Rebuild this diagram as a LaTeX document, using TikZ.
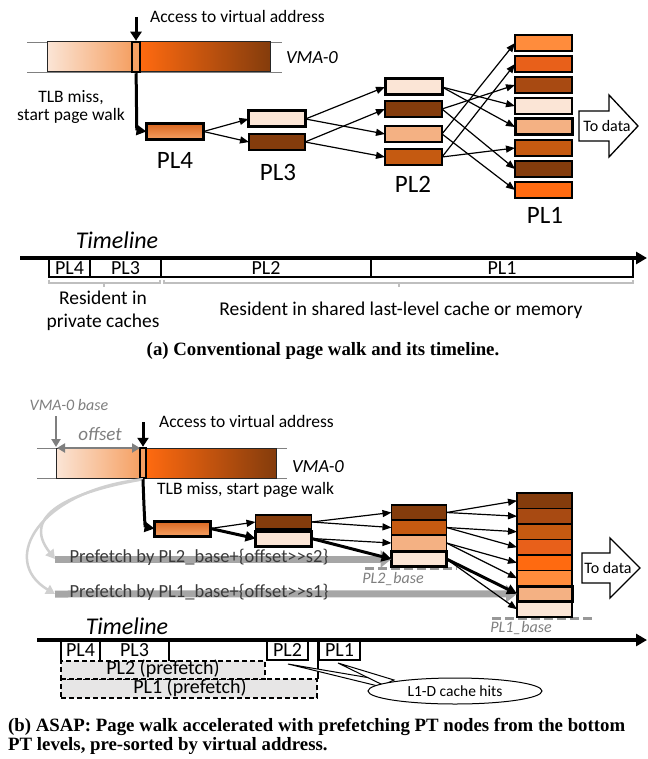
\documentclass[tikz,border=0pt]{standalone}
\usepackage{fontspec}
\setmainfont{Carlito}
\newfontfamily\capfont{Liberation Serif}
\usetikzlibrary{arrows.meta,shapes.geometric}
\definecolor{oA}{HTML}{FBE5D6}
\definecolor{oB}{HTML}{F4B183}
\definecolor{oC}{HTML}{FF8C3C}
\definecolor{oD}{HTML}{FF6A10}
\definecolor{oE}{HTML}{E8601A}
\definecolor{oF}{HTML}{C55A11}
\definecolor{oG}{HTML}{A84A12}
\definecolor{oH}{HTML}{843C0C}
\definecolor{pgA}{HTML}{D9661F}
\definecolor{pgB}{HTML}{F5A063}
\definecolor{gtxt}{HTML}{7F7F7F}
\definecolor{gbar}{HTML}{A6A6A6}
\definecolor{gcurve}{HTML}{D0D0D0}
\definecolor{gbrk}{HTML}{BFBFBF}
\definecolor{pfill}{HTML}{E7E6E6}
\definecolor{ptxt}{HTML}{3A3A3A}
\begin{document}
\begin{tikzpicture}[x=1pt,y=-1pt,
  box/.style={draw=black,line width=1.3pt,inner sep=0pt,outer sep=0pt,minimum width=57pt,minimum height=16pt},
  bbox/.style={box,line width=3pt},
  conn/.style={line width=1.2pt,-{Triangle[length=9pt,width=7pt]}},
  bconn/.style={line width=3pt,-{Triangle[length=10pt,width=10pt]}},
  txt/.style={inner sep=0pt,font=\fontsize{17.5}{20}\selectfont},
  lbl/.style={inner sep=0pt,font=\fontsize{25}{30}\selectfont},
  tlb/.style={draw=black,line width=1.2pt,inner sep=0pt,outer sep=0pt,minimum height=18pt,font=\fontsize{20}{20}\selectfont},
  glbl/.style={inner sep=0pt,text=gtxt,font=\fontsize{16}{19}\selectfont\itshape},
  pfbox/.style={draw=black,dash pattern=on 5pt off 3pt,line width=1.2pt,fill=pfill,inner sep=0pt,outer sep=0pt,font=\fontsize{20}{20}\selectfont},
  tline/.style={line width=4pt,-{Triangle[length=11pt,width=12pt]}},
  tltxt/.style={inner sep=0pt,font=\fontsize{24}{28}\selectfont\itshape},
  captxt/.style={inner sep=0pt,font=\capfont\bfseries\fontsize{18.8}{21}\selectfont}
]
\useasboundingbox[fill=white] (0,0) rectangle (647,759);

%% ================= (a) =================
\draw[gray,line width=0.8pt] (27,42) -- (282,42) (27,72) -- (282,72);
\fill[left color=oA,right color=pgB] (47,42) rectangle (132,72);
\fill[left color=oD,middle color=oF!70!oD,right color=oH] (140,42) rectangle (270,72);
\draw[line width=1pt,black!85] (47,42) rectangle (270,72);
\node[draw=black,line width=2.5pt,fill=pgB,minimum width=8pt,minimum height=30pt,inner sep=0pt] (sA) at (136,57) {};
\coordinate (acA) at (136,17);
\draw[line width=3pt,-{Triangle[length=9pt,width=11pt]}] (acA) -- (sA.north);
\node[txt,anchor=west] (accA) at (150,16) {Access to virtual address};
\node[txt,font=\fontsize{18.5}{20}\selectfont\itshape] (vmaA) at (312,58) {VMA-0};
\node[txt,align=center,font=\fontsize{17.5}{18}\selectfont] (tlbA) at (71,107) {TLB miss,\\start page walk};

% PL4
\node[bbox,top color=pgA,bottom color=pgB,minimum width=57pt] (a4) at (175,131.5) {};
\node[lbl] (l4) at (175,160) {PL4};
% PL3
\node[bbox,fill=oA] (a3t) at (277,119) {};
\node[box,fill=oH,minimum width=56pt] (a3b) at (277,142) {};
\node[lbl] (l3) at (278,172) {PL3};
% PL2
\node[bbox,fill=oA] (a2a) at (413.5,87) {};
\node[box,fill=oH] (a2b) at (413.5,109) {};
\node[box,fill=oB] (a2c) at (413.5,134) {};
\node[box,fill=oF] (a2d) at (413.5,157) {};
\node[lbl] (l2) at (413,184) {PL2};
% PL1
\foreach \i/\c/\st in {1/oC/box,2/oE/box,3/oG/box,4/oA/box,5/oB/bbox,6/oF/box,7/oH/box,8/oD/box}
  \node[\st,fill=\c] (pa\i) at (543.5,{43+21*(\i-1)}) {};
\node[lbl] (l1) at (545,215) {PL1};

\draw[bconn] (sA.south) .. controls (137,112) and (136,130) .. (a4.west);
\draw[conn] (a4.east) -- (a3t.west);
\draw[conn] (a4.east) -- (a3b.west);
\draw[conn] (a3t.east) -- (a2a.west);
\draw[conn] (a3t.east) -- (a2c.west);
\draw[conn] (a3b.east) -- (a2b.west);
\draw[conn] (a3b.east) -- (a2d.west);
\foreach \s/\t in {a2a/pa4,a2a/pa5,a2b/pa3,a2b/pa7,a2c/pa1,a2c/pa8,a2d/pa2,a2d/pa6}
  \draw[conn] (\s.east) -- (\t.west);

% To data (a)
\draw[line width=1.3pt,fill=white] (579,111) -- (609,111) -- (609,95) -- (638,126) -- (609,157) -- (609,141) -- (579,141) -- cycle;
\node[inner sep=0pt,font=\fontsize{16}{18}\selectfont] (tdA) at (607,126) {To data};

% timeline (a)
\node[tltxt] (tlA) at (117,240) {Timeline};
\coordinate (tAs) at (20,258);
\coordinate (tAe) at (647,258);
\node[tlb,minimum width=41pt] (tA4) at (69.5,268) {PL4};
\node[tlb,minimum width=71pt] (tA3) at (125.5,268) {PL3};
\node[tlb,minimum width=210pt] (tA2) at (266,268) {PL2};
\node[tlb,minimum width=262pt] (tA1) at (502,268) {PL1};
\draw[tline] (tAs) -- (tAe);
\draw[gbrk,line width=1.2pt] (49,279.5) -- (49,283) -- (160,283) -- (160,279.5) (104,283) -- (104,287);
\draw[gbrk,line width=1.2pt] (164,279.5) -- (164,283) -- (633,283) -- (633,279.5) (399,283) -- (399,287);
\node[inner sep=0pt,align=center,font=\fontsize{19.5}{23.5}\selectfont] (resA) at (103,311) {Resident in\\private caches};
\node[inner sep=0pt,font=\fontsize{19.5}{23}\selectfont] (resB) at (401,310) {Resident in shared last-level cache or memory};
\node[captxt] (capA) at (323,351) {(a) Conventional page walk and its timeline.};

%% ================= (b) =================
\draw[gray,line width=0.8pt] (37,448) -- (287,448) (37,478) -- (287,478);
\fill[left color=oA,right color=pgB] (56,448) rectangle (140,478);
\fill[left color=oD,middle color=oF!70!oD,right color=oH] (146,448) rectangle (276,478);
\draw[line width=1pt,black!85] (56,448) rectangle (276,478);
\node[draw=black,line width=2.5pt,fill=pgB,minimum width=6pt,minimum height=30pt,inner sep=0pt] (sB) at (143,463) {};
\node[glbl] (vbase) at (69,405) {VMA-0 base};
\coordinate (vbs) at (56,416);
\coordinate (vbe) at (56,447);
\draw[line width=2.5pt,gtxt,-{Triangle[length=8pt,width=9pt]}] (vbs) -- (vbe);
\node[glbl,font=\fontsize{19}{21}\selectfont\itshape] (offs) at (100,434) {offset};
\coordinate (ofs) at (57,448);
\coordinate (ofe) at (140,448);
\draw[line width=2.5pt,gtxt,{Triangle[length=8pt,width=9pt]}-{Triangle[length=8pt,width=9pt]}] (ofs) -- (ofe);
\coordinate (acB) at (143,422);
\draw[line width=3pt,-{Triangle[length=9pt,width=11pt]}] (acB) -- (sB.north);
\node[txt,anchor=west] (accB) at (159,421) {Access to virtual address};
\node[txt,font=\fontsize{18.5}{20}\selectfont\itshape] (vmaB) at (318,467) {VMA-0};
\node[txt,anchor=west] (tlbB) at (157,490) {TLB miss, start page walk};

% light gray curves
\coordinate (pf2s) at (55,559);
\coordinate (pf1s) at (55,594);
\draw[gcurve,line width=2.5pt,-{Triangle[length=9pt,width=10pt]}] (sB.south) .. controls (70,492) and (20,515) .. (pf2s);
\draw[gcurve,line width=2.5pt,-{Triangle[length=9pt,width=10pt]}] (sB.south) .. controls (40,490) and (-2,560) .. (pf1s);

% base lines
\coordinate (b2bs) at (365,568.5);
\coordinate (b2be) at (457,568.5);
\draw[gtxt!80,line width=3pt,dash pattern=on 9pt off 4pt] (b2bs) -- (b2be);
\coordinate (b1bs) at (492,618);
\coordinate (b1be) at (592,618);
\draw[gtxt!80,line width=3pt,dash pattern=on 9pt off 4pt] (b1bs) -- (b1be);
\node[glbl] (pl2base) at (393,579) {PL2\_base};
\node[glbl] (pl1base) at (521,628) {PL1\_base};

% PL nodes (b)
\node[bbox,top color=pgA,bottom color=pgB,minimum width=56pt,minimum height=15pt] (b4n) at (182.5,528.5) {};
\node[box,fill=oH,minimum width=56pt,minimum height=14pt] (b3t) at (283.5,522) {};
\node[bbox,fill=oA,minimum width=56pt,minimum height=15pt] (b3b) at (283.5,538.5) {};
\node[box,fill=oH,minimum width=55pt,minimum height=15pt] (b2a) at (419,512.5) {};
\node[box,fill=oF,minimum width=55pt,minimum height=15pt] (b2b) at (419,527.5) {};
\node[box,fill=oB,minimum width=55pt,minimum height=15pt] (b2c) at (419,543) {};
\foreach \i/\c in {1/oH,2/oG,3/oF,4/oE,5/oD,6/oC,8/oA}
  \node[box,fill=\c,minimum width=55pt,minimum height=15.5pt] (pb\i) at (544.5,{500.75+15.5*(\i-1)}) {};
\node[bbox,fill=oB,minimum width=55pt,minimum height=15.5pt] (pb7) at (544.5,593.75) {};
\node[bbox,fill=oA,minimum width=55pt,minimum height=15pt] (b2d) at (419,559) {};

% prefetch bars
\draw[gbar,line width=7pt,-{Triangle[length=11pt,width=17pt]}] (pf2s) -- (b2d.west);
\draw[gbar,line width=7pt,-{Triangle[length=11pt,width=17pt]}] (pf1s) -- (pb7.west);
\node[inner sep=0pt,text=ptxt,font=\fontsize{18.5}{20}\selectfont] (pf2) at (199,557) {Prefetch by PL2\_base+\{offset>{}>s2\}};
\node[inner sep=0pt,text=ptxt,font=\fontsize{18.5}{20}\selectfont] (pf1) at (199,592) {Prefetch by PL1\_base+\{offset>{}>s1\}};

% arrows (b)
\draw[bconn] (sB.south) .. controls (144,510) and (145,527) .. (b4n.west);
\draw[conn] (b4n.east) -- (b3t.west);
\draw[bconn] (b4n.east) -- (b3b.west);
\draw[conn] (b3t.east) -- (b2a.west);
\draw[conn] (b3t.east) -- (b2b.west);
\draw[conn] (b3b.east) -- (b2c.west);
\draw[bconn] (b3b.east) -- (b2d.west);
\foreach \s/\t in {b2a/pb1,b2a/pb2,b2b/pb3,b2b/pb4,b2c/pb5,b2c/pb6,b2d/pb8}
  \draw[conn] (\s.east) -- (\t.west);
\draw[bconn] (b2d.east) -- (pb7.west);

% To data (b)
\draw[line width=1.3pt,fill=white] (582,553) -- (610,553) -- (610,538) -- (640,568) -- (610,598) -- (610,583) -- (582,583) -- cycle;
\node[inner sep=0pt,font=\fontsize{16}{18}\selectfont] (tdB) at (608,568) {To data};

% timeline (b)
\node[tltxt] (tlB) at (127,626) {Timeline};
\coordinate (tBs) at (37,640);
\coordinate (tBe) at (647,640);
\node[pfbox,minimum width=256pt,minimum height=19pt] (pfb1) at (189,688.5) {};
\node[pfbox,minimum width=204pt,minimum height=18pt] (pfb2) at (163,670) {};
\node[inner sep=0pt,font=\fontsize{20}{20}\selectfont] (pft2) at (163,669) {PL2 (prefetch)};
\node[inner sep=0pt,font=\fontsize{20}{20}\selectfont] (pft1) at (190,688) {PL1 (prefetch)};
\draw[line width=1.2pt] (61,640) -- (61,661) (100,640) -- (100,661) (169,640) -- (169,661) (318,640) -- (318,679);
\node[inner sep=0pt,font=\fontsize{20}{20}\selectfont] (tB4) at (80.5,650) {PL4};
\node[inner sep=0pt,font=\fontsize{20}{20}\selectfont] (tB3) at (134.5,650) {PL3};
\node[tlb,minimum width=41pt,minimum height=20pt] (tB2) at (287.5,650) {PL2};
\node[tlb,minimum width=41pt,minimum height=20pt] (tB1) at (339.5,650) {PL1};
\draw[tline] (tBs) -- (tBe);

% callout
\coordinate (ct2) at (288,664);
\coordinate (ct1) at (338,663);
\filldraw[fill=white,line width=1pt] (ct2) -- (378,686) -- (388,681) -- cycle;
\filldraw[fill=white,line width=1pt] (ct1) -- (383,685) -- (394,680) -- cycle;
\node[ellipse,draw,line width=1pt,fill=white,minimum width=174pt,minimum height=26pt,inner sep=0pt,font=\fontsize{15.5}{17}\selectfont] (hits) at (455,691) {L1-D cache hits};

% caption (b)
\node[captxt,anchor=west] (capB1) at (8,727) {(b) ASAP: Page walk accelerated with prefetching PT nodes from the bottom};
\node[captxt,anchor=west] (capB2) at (8,746) {PT levels, pre-sorted by virtual address.};
\end{tikzpicture}
\end{document}
